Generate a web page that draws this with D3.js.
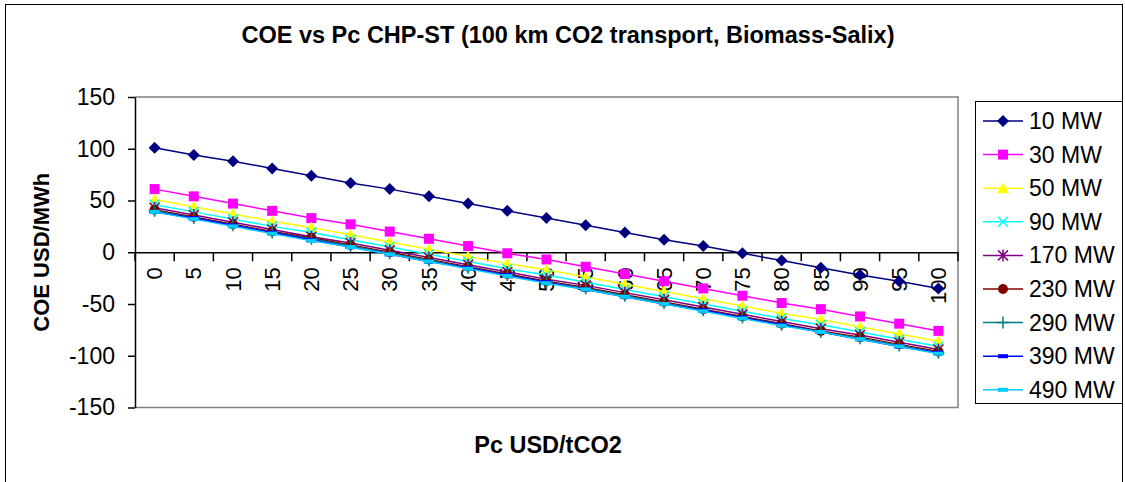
<!DOCTYPE html>
<html>
<head>
<meta charset="utf-8">
<script src="https://cdn.jsdelivr.net/npm/d3@7"></script>
<style>
  body { margin: 0; background: #fff; }
  svg text { font-family: "Liberation Sans", Arial, sans-serif; fill: #000; }
</style>
</head>
<body>
<div class="chart"></div>
<script>
// COE vs Pc line chart

var svgWidth = 1125;
var svgHeight = 482;

// data
var pc = [0, 5, 10, 15, 20, 25, 30, 35, 40, 45, 50, 55, 60, 65, 70, 75, 80, 85, 90, 95, 100];
var seriesNames = ["10 MW", "30 MW", "50 MW", "90 MW", "170 MW", "230 MW", "290 MW", "390 MW", "490 MW"];
var coe10  = [101, 94, 88, 81, 74, 67, 61, 54, 47, 40, 33, 26, 19, 12, 6, -1, -8, -15, -22, -28, -35];
var coe30  = [61, 54, 47, 40, 33, 27, 20, 13, 6, -1, -7, -14, -21, -28, -35, -42, -49, -55, -62, -69, -76];
var coe50  = [51, 44, 37, 30, 24, 17, 10, 3, -4, -11, -17, -24, -31, -38, -45, -52, -59, -65, -72, -79, -86];
var coe90  = [46, 39, 32, 25, 19, 12, 5, -2, -9, -16, -22, -29, -36, -43, -50, -57, -64, -70, -77, -84, -91];
var coe170 = [43, 36, 29, 22, 15, 9, 2, -5, -12, -19, -26, -32, -39, -46, -53, -60, -67, -74, -80, -87, -94];
var coe230 = [41, 34, 27, 20, 14, 7, 0, -7, -14, -21, -28, -34, -41, -48, -55, -62, -69, -76, -82, -89, -96];
var coe290 = [40, 33, 26, 19, 13, 6, -1, -8, -15, -22, -29, -35, -42, -49, -56, -63, -70, -77, -83, -90, -97];
var coe390 = [39, 33, 26, 19, 12, 5, -2, -9, -15, -22, -29, -36, -43, -50, -56, -63, -70, -77, -84, -91, -97];
var coe490 = [39, 32, 25, 18, 11, 5, -2, -9, -16, -23, -30, -36, -43, -50, -57, -64, -71, -77, -84, -91, -98];
var yTicks = [-150, -100, -50, 0, 50, 100, 150];

var allValues = [coe10, coe30, coe50, coe90, coe170, coe230, coe290, coe390, coe490];
var colors = ["#000080", "#FF00FF", "#FFFF00", "#00FFFF", "#800080", "#800000", "#008080", "#0000FF", "#00CCFF"];
var markers = ["diamond", "square", "triangle", "x", "star", "circle", "plus", "dash", "dash"];

var plot = { left: 135, right: 958, top: 97, bottom: 407.5 };

var svg = d3.select(".chart")
  .append("svg")
  .attr("width", svgWidth)
  .attr("height", svgHeight);

// outer chart border
svg.append("rect")
  .attr("x", 5.5).attr("y", 4.5)
  .attr("width", 1117).attr("height", 482)
  .attr("fill", "none").attr("stroke", "#000").attr("stroke-width", 1);

var xScale = d3.scaleBand().domain(pc).range([plot.left, plot.right]);
var yScale = d3.scaleLinear().domain([-150, 150]).range([plot.bottom, plot.top]);
var cx = d => xScale(d) + xScale.bandwidth() / 2;

// plot area frame (gray top/right/bottom)
svg.append("path")
  .attr("d", `M${plot.left},${plot.top}H${plot.right}V${plot.bottom}H${plot.left}`)
  .attr("fill", "none").attr("stroke", "#808080").attr("stroke-width", 1.5);

// y axis (plain hyphen for negatives)
var leftAxis = d3.axisLeft(yScale)
  .tickValues(yTicks)
  .tickFormat(d => String(d))
  .tickSize(7).tickSizeOuter(0).tickPadding(13);
var yAxisG = svg.append("g")
  .attr("transform", `translate(${plot.left},0)`)
  .call(leftAxis);
yAxisG.select(".domain").attr("stroke", "#000").attr("stroke-width", 1.5);
yAxisG.selectAll("line").attr("stroke", "#000").attr("stroke-width", 1.5);
yAxisG.selectAll("text").attr("font-size", "23px").attr("font-family", "Liberation Sans, Arial, sans-serif");

// x axis crossing at zero
var y0 = yScale(0);
var bottomAxis = d3.axisBottom(xScale).tickSize(0).tickSizeOuter(0).tickPadding(0);
var xAxisG = svg.append("g")
  .attr("transform", `translate(0,${y0})`)
  .call(bottomAxis);
xAxisG.select(".domain").attr("stroke", "#000").attr("stroke-width", 1.5);
xAxisG.selectAll("text")
  .attr("font-size", "22px")
  .attr("font-family", "Liberation Sans, Arial, sans-serif")
  .attr("text-anchor", "end")
  .attr("y", 0)
  .attr("dy", "0.35em")
  .attr("transform", "translate(0,15) rotate(-90)");

// tick marks between categories
var boundaries = pc.map(d => xScale(d)).concat([plot.right]);
svg.append("g").selectAll("line")
  .data(boundaries)
  .enter()
  .append("line")
  .attr("x1", d => d).attr("x2", d => d)
  .attr("y1", y0).attr("y2", y0 + 9)
  .attr("stroke", "#000").attr("stroke-width", 1.5);

function drawMarker(g, type, color) {
  if (type === "diamond") {
    g.append("path").attr("d", "M0,-6L6,0L0,6L-6,0Z").attr("fill", color);
  } else if (type === "square") {
    g.append("rect").attr("x", -5).attr("y", -5).attr("width", 10).attr("height", 10).attr("fill", color);
  } else if (type === "triangle") {
    g.append("path").attr("d", "M0,-6L6,5L-6,5Z").attr("fill", color);
  } else if (type === "x") {
    g.append("path").attr("d", "M-5,-5L5,5M-5,5L5,-5").attr("stroke", color).attr("stroke-width", 1.5);
  } else if (type === "star") {
    g.append("path").attr("d", "M-5,-5L5,5M-5,5L5,-5M0,-6V6").attr("stroke", color).attr("stroke-width", 1.5);
  } else if (type === "circle") {
    g.append("circle").attr("r", 5).attr("fill", color);
  } else if (type === "plus") {
    g.append("path").attr("d", "M-6,0H6M0,-6V6").attr("stroke", color).attr("stroke-width", 1.5);
  } else if (type === "dash") {
    g.append("rect").attr("x", -5).attr("y", -2).attr("width", 10).attr("height", 4).attr("fill", color);
  }
}

var line = d3.line()
  .x((d, i) => cx(pc[i]))
  .y(d => yScale(d));

// series lines and markers
allValues.forEach(function(values, s) {
  var g = svg.append("g");
  g.append("path")
    .attr("d", line(values))
    .attr("fill", "none")
    .attr("stroke", colors[s])
    .attr("stroke-width", 1.5);
  values.forEach(function(v, i) {
    var m = g.append("g").attr("transform", `translate(${cx(pc[i])},${yScale(v)})`);
    drawMarker(m, markers[s], colors[s]);
  });
});

// title
svg.append("text")
  .attr("x", 568).attr("y", 43)
  .attr("text-anchor", "middle")
  .attr("font-size", "23.5px").attr("font-weight", "bold")
  .text("COE vs Pc CHP-ST (100 km CO2 transport, Biomass-Salix)");

// axis titles
svg.append("text")
  .attr("x", 548).attr("y", 453)
  .attr("text-anchor", "middle")
  .attr("font-size", "23.5px").attr("font-weight", "bold")
  .text("Pc USD/tCO2");

svg.append("text")
  .attr("transform", `translate(49,${y0}) rotate(-90)`)
  .attr("text-anchor", "middle")
  .attr("font-size", "22px").attr("font-weight", "bold")
  .text("COE USD/MWh");

// legend
var legend = svg.append("g");
legend.append("rect")
  .attr("x", 975.5).attr("y", 101.5)
  .attr("width", 147).attr("height", 302)
  .attr("fill", "#fff").attr("stroke", "#000").attr("stroke-width", 1);

seriesNames.forEach(function(name, s) {
  var ly = 121 + s * 33.6;
  legend.append("line")
    .attr("x1", 983).attr("x2", 1023)
    .attr("y1", ly).attr("y2", ly)
    .attr("stroke", colors[s]).attr("stroke-width", 1.5);
  var m = legend.append("g").attr("transform", `translate(1003,${ly})`);
  drawMarker(m, markers[s], colors[s]);
  legend.append("text")
    .attr("x", 1029).attr("y", ly)
    .attr("dy", "0.35em")
    .attr("font-size", "23px")
    .text(name);
});
</script>
</body>
</html>
